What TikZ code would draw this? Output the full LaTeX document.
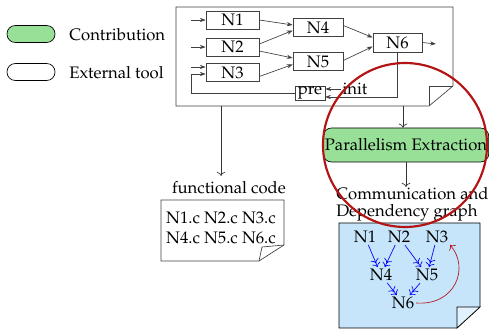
\documentclass[tikz,border=0pt]{standalone}
\usepackage[T1]{fontenc}
\usepackage{mathpazo}
\usetikzlibrary{arrows.meta,calc}
\definecolor{contribgreen}{RGB}{152,224,152}
\definecolor{graphblue}{RGB}{198,228,250}
\definecolor{circlered}{RGB}{180,20,20}
\begin{document}
\begin{tikzpicture}[x=0.6pt,y=-0.6pt,
  legendbox/.style={draw,rounded corners=5pt,minimum width=28.8pt,minimum height=10.2pt,inner sep=0pt},
  blk/.style={draw=black!75,minimum height=10.8pt,inner sep=0pt},
  link/.style={black!75,-{Stealth[length=3.5pt,width=2.5pt]}},
  flow/.style={black!80,->},
  dep/.style={blue,->>},
  gn/.style={inner sep=1pt}]
\useasboundingbox (0,0) rectangle (489,330);
\node[legendbox,fill=contribgreen] (lgc) at (31,34) {};
\node[anchor=west,inner sep=0pt] (lgctext) at (69,35) {Contribution};
\node[legendbox] (lge) at (31,72) {};
\node[anchor=west,inner sep=0pt] (lgetext) at (69,73) {External tool};
\begin{scope}
\draw[black!75] (176,7) -- (453,7) -- (453,86) -- (429,106) -- (176,106) -- cycle;
\draw[black!75] (453,86) -- (429,86) -- (429,106);
\node[blk,minimum width=31.8pt] (N1) at (232.5,20) {N1};
\node[blk,minimum width=31.8pt] (N2) at (232.5,47) {N2};
\node[blk,minimum width=31.8pt] (N3) at (232.5,72.5) {N3};
\node[blk,minimum width=30pt] (N4) at (318,27.5) {N4};
\node[blk,minimum width=30pt] (N5) at (318,61.5) {N5};
\node[blk,minimum width=29.4pt,minimum height=11.4pt] (N6) at (397.5,42.5) {N6};
\node[blk,minimum width=18pt,minimum height=8.4pt] (pre) at (310,93) {pre};
\node[inner sep=1pt] (init) at (355,89) {init};
\coordinate (in1) at (191,20);
\coordinate (in2) at (191,47);
\coordinate (in3) at (191,67);
\coordinate (loop) at (191,74);
\coordinate (out6) at (436,44);
\coordinate (fb) at (325,97);
\draw[link] (in1) -- (N1.west);
\draw[link] (in2) -- (N2.west);
\draw[link] (in3) -- (in3 -| N3.west);
\draw[link] (pre.west) -| (loop) -- (loop -| N3.west);
\draw[link] ($(N1.east)+(0,0)$) -- ($(N4.west)+(0,-2.5)$);
\draw[link] ($(N2.east)+(0,-3)$) -- ($(N4.west)+(0,3)$);
\draw[link] ($(N2.east)+(0,4)$) -- ($(N5.west)+(0,-3.5)$);
\draw[link] ($(N3.east)+(0,4)$) -- ($(N5.west)+(0,3)$);
\draw[link] ($(N4.east)+(0,-2)$) -- ($(N6.west)+(0,-5)$);
\draw[link] ($(N5.east)+(0,-1)$) -- ($(N6.west)+(0,4)$);
\draw[link] (N6.east) -- (out6);
\draw[link] (init.west) -- (pre.east |- init.west);
\draw[link] (N6.south) |- (fb);
\end{scope}
\coordinate (outF) at (221,106);
\coordinate (outP) at (403,106);
\node (fclabel) at (229,188) {functional code};
\draw[flow] (outF) -- (outF |- fclabel.north);
\draw[black!75] (161,200) -- (284,200) -- (284,245) -- (259,261) -- (161,261) -- cycle;
\draw[black!75] (284,245) -- (262,247) -- (259,261);
\node[align=left,inner sep=0pt] (fcode) at (221,228) {N1.c N2.c N3.c\\N4.c N5.c N6.c};
\node[draw,fill=contribgreen,rounded corners=5pt,minimum width=97pt,minimum height=20.4pt,inner sep=1pt] (pe) at (406,145) {Parallelism Extraction};
\draw[flow] (outP) -- (outP |- pe.north);
\node[align=left,anchor=north west,inner sep=0pt] (cdg) at (336,187) {Communication and\\[-2pt]Dependency graph};
\draw[flow] (pe.south) -- (pe.south |- cdg.north);
\draw[fill=graphblue] (339,223) -- (480,223) -- (480,307) -- (457,328) -- (339,328) -- cycle;
\draw[fill=graphblue!50] (480,307) -- (457,307) -- (457,328) -- cycle;
\node[gn] (g1) at (365,237) {N1};
\node[gn] (g2) at (399,237) {N2};
\node[gn] (g3) at (437,237) {N3};
\node[gn] (g4) at (381,275) {N4};
\node[gn] (g5) at (427,275) {N5};
\node[gn] (g6) at (403,303) {N6};
\draw[dep] (g1) -- (g4);
\draw[dep] (g2) -- (g4);
\draw[dep] (g2) -- (g5);
\draw[dep] (g3) -- (g5);
\draw[dep] (g4) -- (g6);
\draw[dep] (g5) -- (g6);
\draw[circlered,->] (g6.east) .. controls (455,306) and (470,268) .. (g3.south east);
\draw[circlered,line width=1.3pt] (405,145) circle [radius=49.2pt];
\end{tikzpicture}
\end{document}
